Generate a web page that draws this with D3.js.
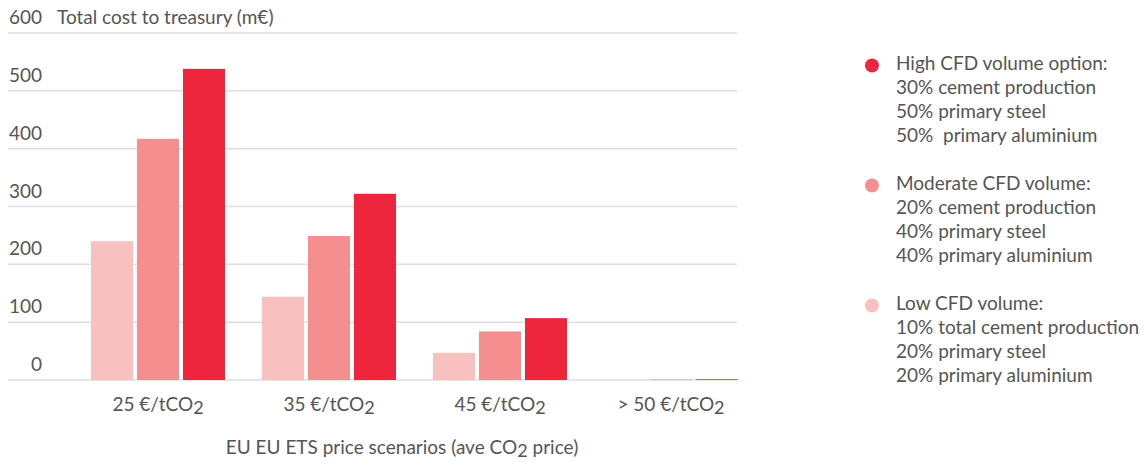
<!DOCTYPE html>
<html><head><meta charset="utf-8">
<script src="https://cdn.jsdelivr.net/npm/d3@7"></script>
<style>body{margin:0;background:#fff;} text{font-family:Lato,"Open Sans",sans-serif;fill:#555;white-space:pre;}</style>
</head><body>
<svg id="c" width="1144" height="462"></svg>
<script>
const categories = ["25 €/tCO", "35 €/tCO", "45 €/tCO", "> 50 €/tCO"];
const seriesNames = ["Low", "Moderate", "High"];
const lowValues = [240, 144, 47, 0.5];
const moderateValues = [417, 249, 84, 0.8];
const highValues = [538, 322, 107, 1.2];
const yTicks = [0, 100, 200, 300, 400, 500, 600];
const colors = ["#f8c1c0", "#f48e8f", "#ee263d"];
const legendItems = [
  {color: "#ee263d", lines: ["High CFD volume option:", "30% cement production", "50% primary steel", "50%  primary aluminium"]},
  {color: "#f48e8f", lines: ["Moderate CFD volume:", "20% cement production", "40% primary steel", "40% primary aluminium"]},
  {color: "#f8c1c0", lines: ["Low CFD volume:", "10% total cement production", "20% primary steel", "20% primary aluminium"]}
];
const seriesValues = [lowValues, moderateValues, highValues];
const FS = 19;

const svg = d3.select("#c");
const y = d3.scaleLinear().domain([0, 600]).range([380, 33]);
const x0 = d3.scaleBand().domain(categories).range([72.5, 756.5]).paddingInner(0.2164).paddingOuter(0.1082);
const x1 = d3.scaleBand().domain(seriesNames).range([0, x0.bandwidth()]).paddingInner(0.087).paddingOuter(0);

svg.append("g").selectAll("line").data(yTicks).join("line")
  .attr("x1", 8).attr("x2", 737)
  .attr("y1", d => y(d)).attr("y2", d => y(d))
  .attr("stroke", "#dedede").attr("stroke-width", 1.5);

svg.append("g").selectAll("text").data(yTicks).join("text")
  .attr("x", 42).attr("y", d => y(d) - 9)
  .attr("text-anchor", "end").attr("font-size", FS).text(d => d);

svg.append("text").attr("x", 57).attr("y", 24).attr("font-size", FS).text("Total cost to treasury (m€)");

const g = svg.append("g");
categories.forEach((c, i) => {
  seriesNames.forEach((s, j) => {
    const v = seriesValues[j][i];
    g.append("rect")
      .attr("x", x0(c) + x1(s)).attr("width", x1.bandwidth())
      .attr("y", y(v)).attr("height", y(0) - y(v))
      .attr("fill", colors[j]);
  });
});

const xl = svg.append("g").selectAll("text").data(categories).join("text")
  .attr("x", d => x0(d) + x0.bandwidth() / 2).attr("y", 411)
  .attr("text-anchor", "middle").attr("font-size", FS);
xl.append("tspan").text(d => d);
xl.append("tspan").attr("dy", 3).attr("font-size", 18).text("2");

const t = svg.append("text").attr("x", 402).attr("y", 454).attr("text-anchor", "middle").attr("font-size", FS);
t.append("tspan").text("EU EU ETS price scenarios (ave CO");
t.append("tspan").attr("dy", 3).attr("font-size", 18).text("2");
t.append("tspan").attr("dy", -3).text(" price)");

const lg = svg.append("g");
legendItems.forEach((item, i) => {
  const top = 65.5 + i * 120;
  lg.append("circle").attr("cx", 872).attr("cy", top).attr("r", 7).attr("fill", item.color);
  item.lines.forEach((ln, k) => {
    lg.append("text").attr("x", 896).attr("y", top + 4.5 + k * 24).attr("font-size", FS).text(ln);
  });
});
</script>
</body></html>
